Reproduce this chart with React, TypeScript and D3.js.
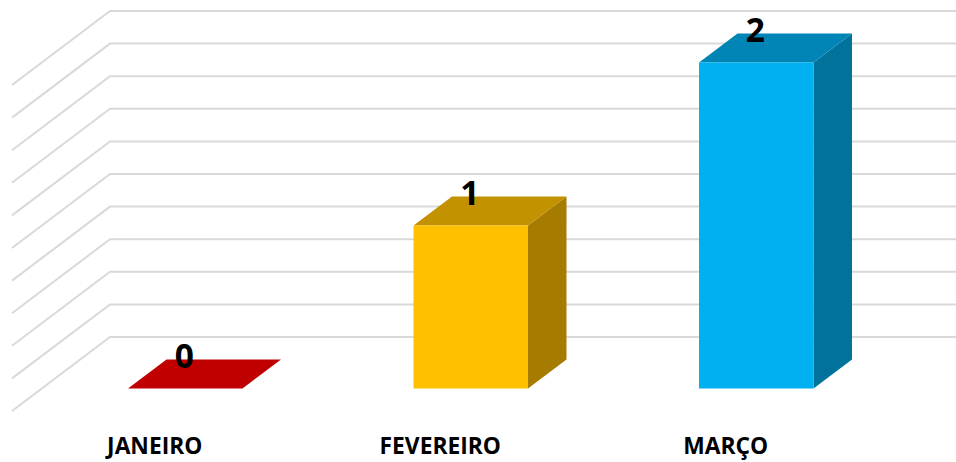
import React from "react";
import * as d3 from "d3";

// Chart values
const months = ["JANEIRO", "FEVEREIRO", "MARÇO"];
const counts = [0, 1, 2];
const gridTicks = [0, 0.2, 0.4, 0.6, 0.8, 1, 1.2, 1.4, 1.6, 1.8, 2];

// Face colours per bar
const frontColors = ["#C00000", "#FFC000", "#00B0F0"];
const topColors = ["#C00000", "#C29200", "#0085B6"];
const sideColors = ["#920000", "#A67C00", "#00729C"];

const WIDTH = 956;
const HEIGHT = 462;
const FONT = "'Open Sans', sans-serif";

// Oblique projection of the 3D box
const WALL_LEFT = 110;
const WALL_RIGHT = 956;
const FLOOR_DX = -98;
const FLOOR_DY = 74;
const BAR_DX = 38.5;
const BAR_DY = -29;
const BAR_LIFT = 51.5; // vertical offset from the back wall down to the bars' front faces

const wallY = d3.scaleLinear().domain([0, 2]).range([337, 11]);
const barX = d3.scaleBand<string>().domain(months).range([42.5, 899]).paddingInner(0.599).paddingOuter(0.2995);

const poly = d3.line<[number, number]>().x((p) => p[0]).y((p) => p[1]);
const closed = (pts: [number, number][]) => poly(pts) + "Z";

export default function App() {
  const bw = barX.bandwidth();
  return (
    <svg
      width={WIDTH}
      height={HEIGHT}
      viewBox={`0 0 ${WIDTH} ${HEIGHT}`}
      style={{ position: "absolute", left: 0, top: 0, background: "#fff" }}
    >
      <g fill="none" stroke="#D9D9D9" strokeWidth={2}>
        {gridTicks.map((t) => (
          <polyline
            key={t}
            points={`${WALL_LEFT + FLOOR_DX},${wallY(t) + FLOOR_DY} ${WALL_LEFT},${wallY(t)} ${WALL_RIGHT},${wallY(t)}`}
          />
        ))}
      </g>

      {months.map((m, i) => {
        const x0 = barX(m)!;
        const x1 = x0 + bw;
        const base = wallY(0) + BAR_LIFT;
        const top = wallY(counts[i]) + BAR_LIFT;
        return (
          <g key={m}>
            <path
              fill={sideColors[i]}
              d={closed([[x1, top], [x1 + BAR_DX, top + BAR_DY], [x1 + BAR_DX, base + BAR_DY], [x1, base]])}
            />
            <path
              fill={topColors[i]}
              d={closed([[x0, top], [x0 + BAR_DX, top + BAR_DY], [x1 + BAR_DX, top + BAR_DY], [x1, top]])}
            />
            <rect x={x0} y={top} width={bw} height={base - top} fill={frontColors[i]} />
            <text
              x={x0 + bw / 2 - 1}
              y={top - 21}
              textAnchor="middle"
              fontFamily={FONT}
              fontWeight={700}
              fontSize={33.5}
              fill="#000"
            >
              {counts[i]}
            </text>
            <text
              x={x0 + bw / 2 - 30.5}
              y={454}
              textAnchor="middle"
              fontFamily={FONT}
              fontWeight={700}
              fontSize={22.8}
              fill="#000"
            >
              {m}
            </text>
          </g>
        );
      })}
    </svg>
  );
}
